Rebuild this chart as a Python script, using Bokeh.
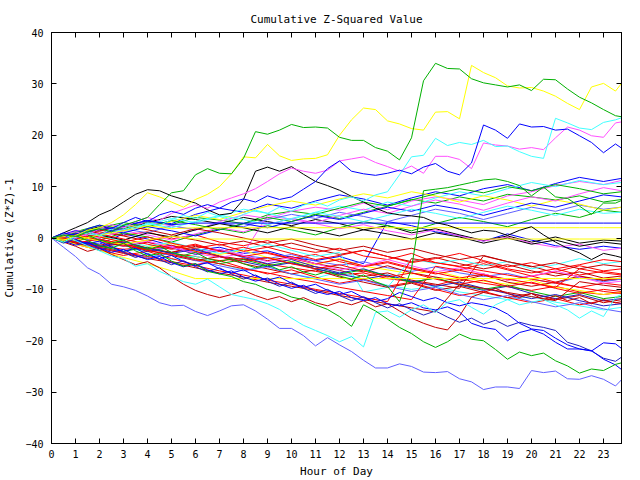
from bokeh.plotting import figure
from bokeh.models import LinearAxis, FixedTicker, Range1d
from bokeh.embed import file_html
from bokeh.resources import INLINE

# ---------------- colours ----------------
RED = "#ff0000"
DRED = "#c00000"
GREEN = "#00b000"
BLUE = "#0000ff"
NAVY = "#2020c0"
SLATE = "#6060ff"
MAG = "#ff50ff"
CYAN = "#40ffff"
YEL = "#ffff00"
BLK = "#000000"

# ---------------- time grids (hour of day) ----------------
hours_hourly = [0, 1, 2, 3, 4, 5, 6, 7, 8, 9, 10, 11,
                12, 13, 14, 15, 16, 17, 18, 19, 20, 21, 22, 23, 23.75]
hours_half = [i / 2 for i in range(48)] + [23.75]

x_ticks = list(range(24))
y_ticks = [-40, -30, -20, -10, 0, 10, 20, 30, 40]

# ---------------- half-hour series (prominent lines) ----------------
green_top = [0, 0.6, 0.3, 1.2, 1.8, 1.2, 2.5, 3.2, 4.0, 6.5, 8.8, 9.2,
             12.3, 13.5, 12.6, 12.5, 15.5, 20.7, 20.2, 21.0, 22.1, 21.5, 21.6, 21.4,
             19.6, 19.0, 19.0, 17.6, 16.9, 15.2, 19.5, 30.6, 34.0, 33.0, 32.9, 31.0,
             30.2, 29.8, 29.4, 29.8, 28.7, 30.9, 30.8, 29.0, 27.4, 26.3, 25.0, 23.8,
             23.6]
yellow_top = [0, -0.5, 0.5, 1.5, 2.0, 3.0, 4.5, 6.5, 8.8, 8.0, 7.0, 6.0,
              7.5, 8.5, 10.0, 12.5, 15.8, 15.6, 18.2, 16.0, 15.1, 15.4, 15.5, 16.2,
              20.0, 23.0, 25.3, 25.0, 22.8, 22.2, 21.3, 21.0, 24.5, 24.6, 23.2, 33.6,
              32.2, 31.2, 29.6, 29.2, 29.3, 28.6, 27.6, 26.2, 25.0, 29.4, 30.1, 28.6,
              30.1]
slate_low = [0, -1.8, -3.6, -5.8, -7.0, -9.0, -9.5, -10.2, -11.3, -12.6, -13.2, -13.1,
             -14.3, -15.1, -14.2, -13.2, -13.0, -14.2, -15.8, -17.6, -17.6, -19.0, -21.0, -19.4,
             -20.8, -22.1, -23.8, -25.3, -25.3, -24.5, -25.0, -26.1, -26.2, -26.0, -27.4, -28.0,
             -29.5, -29.0, -29.0, -29.3, -25.8, -26.2, -25.9, -27.4, -27.5, -26.8, -27.5, -28.8,
             -27.6]
green_low = [0, -0.8, 0.5, -0.5, -1.5, -2.0, -1.0, -2.5, -3.5, -3.0, -4.5, -5.5,
             -5.0, -6.5, -7.0, -7.5, -8.5, -9.0, -10.0, -10.5, -11.5, -12.0, -13.0, -13.9,
             -15.3, -17.2, -13.0, -14.2, -15.8, -17.4, -18.6, -20.2, -21.3, -20.2, -18.7, -19.7,
             -20.0, -21.7, -23.6, -22.2, -22.9, -22.4, -23.9, -24.9, -26.3, -25.5, -25.8, -24.6,
             -24.3]
cyan_low = [0, 0.8, -0.5, -1.5, -2.5, -3.5, -4.0, -5.5, -5.0, -6.5, -7.5, -8.5,
            -9.0, -8.0, -9.5, -11.0, -11.5, -12.0, -12.8, -13.9, -15.6, -17.0, -18.0, -19.0,
            -20.2, -19.2, -21.2, -14.5, -14.2, -15.4, -14.0, -13.0, -14.5, -12.5, -12.0, -13.5,
            -14.8, -13.0, -12.0, -13.0, -12.5, -12.0, -13.0, -14.0, -15.6, -14.2, -15.3, -11.5,
            -11.0]
blue_up = [0, 1.0, 0.5, 1.8, 2.5, 1.8, 3.0, 4.0, 3.2, 4.5, 5.2, 4.6,
           5.8, 6.5, 5.8, 7.0, 7.6, 7.0, 8.2, 7.5, 8.0, 9.5, 11.0, 13.5,
           15.0, 13.0, 12.5, 12.2, 12.6, 13.2, 12.5, 13.8, 14.5, 13.0, 12.3, 14.6,
           22.0, 21.0, 19.4, 22.2, 21.6, 21.7, 21.0, 21.2, 19.9, 18.6, 16.6, 18.3,
           17.5]
cyan_up = [0, -0.8, 0.4, 1.2, 0.5, 1.8, 2.6, 1.8, 3.0, 2.4, 3.6, 4.4,
           3.8, 5.0, 4.2, 3.5, 4.6, 5.4, 4.8, 6.0, 5.2, 6.4, 7.0, 6.2,
           7.4, 8.0, 7.2, 8.4, 9.0, 12.3, 15.8, 16.1, 19.4, 18.0, 18.6, 18.2,
           19.0, 17.8, 17.9, 16.8, 15.9, 15.5, 23.3, 22.4, 21.4, 21.1, 22.5, 23.0,
           23.4]
magenta_up = [0, 0.6, 1.2, 0.6, 1.8, 2.6, 2.0, 3.2, 4.0, 3.4, 4.8, 5.6,
              6.4, 5.8, 7.0, 7.8, 8.6, 9.6, 11.0, 12.5, 13.6, 13.0, 12.6, 13.2,
              15.0, 15.4, 15.8, 14.7, 13.9, 13.0, 14.0, 12.6, 15.9, 15.9, 15.3, 13.5,
              18.5, 18.1, 17.9, 17.3, 17.6, 17.2, 19.5, 21.6, 21.0, 19.9, 19.6, 22.4,
              22.6]
blue_low_a = [0, -0.6, -1.4, -0.8, -2.0, -2.8, -2.2, -3.4, -4.2, -3.6, -4.8, -5.6,
              -5.0, -6.2, -7.0, -6.4, -7.6, -8.4, -7.8, -9.0, -9.8, -9.2, -10.4, -11.0,
              -10.4, -11.6, -12.2, -11.6, -12.8, -13.2, -12.6, -13.6, -14.0, -13.4, -14.4, -16.6,
              -17.4, -17.8, -20.0, -18.4, -17.8, -18.7, -20.3, -21.6, -21.6, -22.0, -20.4, -20.6,
              -21.5]
blue_low_b = [0, 0.6, -0.4, -1.2, -0.6, -1.8, -2.6, -2.0, -3.2, -4.0, -3.4, -4.6,
              -5.4, -4.8, -6.0, -6.8, -6.2, -7.4, -8.2, -7.6, -8.8, -9.6, -9.0, -10.2,
              -11.0, -10.4, -11.6, -12.4, -11.8, -10.6, -11.4, -12.2, -11.6, -12.6, -13.2, -12.6,
              -13.0, -13.6, -14.8, -16.6, -17.7, -18.0, -19.5, -20.8, -21.6, -21.9, -23.6, -24.7,
              -25.6]
navy_low = [0, -1.0, -0.2, -1.4, -2.4, -1.6, -2.8, -3.8, -3.0, -4.2, -5.2, -4.4,
            -5.6, -6.6, -5.8, -7.0, -8.0, -7.2, -8.4, -9.4, -8.6, -9.8, -10.8, -10.0,
            -11.2, -12.2, -11.4, -12.6, -13.6, -12.8, -14.0, -15.0, -14.2, -15.4, -16.4, -15.6,
            -16.8, -16.0, -17.2, -16.4, -17.0, -17.4, -18.0, -20.3, -21.0, -22.0, -23.4, -24.0,
            -23.2]
darkred_low = [0, -0.8, -1.6, -2.6, -2.0, -3.2, -4.2, -5.2, -4.6, -5.8, -7.5, -9.0,
               -10.2, -11.0, -11.6, -11.0, -10.2, -11.2, -12.0, -11.4, -12.4, -11.6, -12.6, -13.2,
               -12.4, -13.0, -12.2, -13.4, -12.8, -14.2, -15.6, -16.6, -17.4, -17.9, -15.2, -11.5,
               -10.6, -9.8, -10.8, -11.6, -10.8, -12.0, -11.2, -12.2, -11.6, -12.8, -12.0, -12.6,
               -12.4]
black_up = [0, 1.0, 2.0, 3.0, 4.5, 5.5, 7.0, 8.5, 9.4, 9.2, 8.2, 7.5,
            6.8, 5.5, 4.5, 4.8, 7.5, 13.0, 13.8, 13.0, 13.9, 12.4, 11.0, 10.2,
            9.3, 8.1, 7.0, 5.8, 4.9, 4.5, 4.3, 4.0, 3.0, 2.5, 1.7, 1.0,
            1.5, 1.3, 0.5, 1.5, 2.2, 0.6, -0.8, -2.0, -2.9, -4.2, -3.0, -3.5,
            -3.8]
green_mid = [0, 0.5, 1.2, 0.6, -0.4, -1.0, -0.4, -1.5, -2.2, -1.6, -2.8, -3.4,
             -2.8, -4.0, -4.6, -4.0, -5.0, -5.8, -5.2, -6.2, -5.6, -6.6, -7.2, -6.5,
             -7.4, -8.0, -7.2, -8.5, -9.4, -12.4, -6.0, 9.2, 9.5, 9.8, 10.3, 10.8,
             11.3, 11.5, 11.0, 10.2, 8.2, 9.9, 8.0, 7.7, 6.2, 4.6, 6.8, 6.8,
             7.3]

# ---------------- hourly series (the dense bundle) ----------------
t01 = [0, -0.8, -1.5, -2.2, -1.8, -3.0, -3.6, -4.4, -4.0, -5.1, -5.8, -6.5,
       -7.2, -6.8, -7.9, -8.5, -9.2, -8.0, -8.8, -9.5, -10.2, -9.4, -10.5, -11.0, -10.6]
t02 = [0, 0.5, -0.5, -1.0, -2.2, -2.8, -2.0, -3.5, -4.2, -3.8, -5.0, -5.6,
       -6.3, -7.5, -6.8, -8.2, -9.0, -9.8, -3.5, -4.6, -5.5, -6.8, -7.5, -8.3, -8.0]
t03 = [0, 1.2, 2.5, 1.8, 3.2, 2.6, 4.0, 3.5, 2.8, 4.5, 5.2, 4.6,
       3.8, 5.0, 6.2, 7.5, 6.8, 8.0, 7.2, 8.5, 8.0, 7.4, 8.2, 7.0, 7.5]
t04 = [0, -0.5, -1.2, 0.8, -0.2, -1.5, -2.4, -1.8, -3.0, -2.5, -3.8, -4.4,
       -3.6, -5.0, 3.2, 2.4, 1.2, 0.5, -0.6, 0.8, -0.4, -1.5, -2.2, -1.6, -2.0]
t05 = [0, 1.5, 0.8, 2.2, 3.0, 2.4, 1.5, 3.2, 4.5, 3.8, 5.2, 6.0,
       5.4, 6.8, 5.5, 7.2, 8.0, 7.4, 6.5, 8.2, 9.0, 10.2, 11.0, 10.4, 11.2]
t06 = [0, -1.0, -2.0, -1.4, -3.0, -4.2, -3.5, -5.0, -6.2, -5.5, -7.0, -7.8,
       -6.6, -8.0, -9.2, -10.0, -9.4, -10.5, -11.2, -12.0, -11.4, -12.5, -13.2, -14.0, -13.5]
t07 = [0, 0.2, -0.8, -1.6, -0.8, -2.0, -2.8, -2.2, -3.4, -4.0, -3.2, -4.5,
       -5.3, -4.6, -5.8, -6.5, -5.6, -6.8, -7.5, -6.9, -8.0, -8.8, -7.6, -8.5, -8.0]
t08 = [0, 0.8, 1.6, 0.5, 1.2, -0.2, 0.6, -0.8, -1.5, -0.5, -2.0, -2.8,
       -2.0, -3.5, -4.2, -3.0, -4.8, -5.5, -4.6, -6.0, -6.8, -6.0, -7.2, -6.5, -7.0]
t09 = [0, -0.6, 0.4, -1.0, -1.8, -1.0, -2.6, -3.2, -2.4, -3.8, -4.6, -5.2,
       -4.0, -5.5, -6.2, -7.0, -6.4, -7.6, -8.4, -9.0, -8.2, -9.6, -10.2, -11.0, -10.5]
t10 = [0, 1.0, 2.2, 1.5, 3.0, 4.2, 3.6, 2.8, 4.0, 3.2, 2.4, 3.6,
       2.8, 1.6, 2.4, 1.0, 1.8, 0.6, -0.5, 0.4, -0.8, 0.2, -1.0, -0.4, -0.6]
t11 = [0, -0.4, -1.4, -0.6, -2.0, -2.8, -1.6, -2.4, -3.6, -4.4, -3.6, -5.0,
       -5.8, -6.6, -5.4, -6.8, -7.6, -8.4, -7.2, -8.6, -9.4, -8.6, -7.4, -8.2, -7.8]
t12 = [0, 0.6, -0.4, 1.0, 0.2, -0.8, 0.6, 1.8, 1.0, 2.4, 1.6, 0.6,
       2.0, 3.2, 2.4, 1.4, 2.8, 4.0, 3.2, 2.2, 3.6, 4.8, 4.0, 5.4, 5.0]
t13 = [0, 1.4, 0.6, 2.2, 3.4, 2.8, 4.6, 5.8, 5.0, 6.6, 5.8, 7.2,
       8.4, 7.6, 6.4, 7.8, 9.0, 8.2, 9.6, 10.4, 9.2, 10.6, 11.8, 11.0, 11.6]
t14 = [0, -0.8, -1.6, -0.8, -2.4, -1.6, -3.0, -3.8, -3.0, 4.4, 3.6, 2.8,
       1.8, 2.6, 1.4, 0.6, 1.6, 0.4, -0.6, 0.2, -1.0, -1.8, -1.2, -2.4, -2.0]
t15 = [0, 0.8, 2.0, 1.2, 2.6, 3.8, 3.0, 4.2, 5.6, 4.8, 3.6, 5.0,
       6.2, 5.4, 7.0, 6.2, 7.8, 9.0, 8.2, 9.6, 10.8, 10.0, 11.2, 10.4, 10.8]
t16 = [0, -1.2, -2.4, -3.4, -2.6, -4.0, -5.2, -4.4, -5.8, -7.0, -6.2, -7.6,
       -8.8, -8.0, -9.4, -8.6, -10.0, -11.2, -10.4, -11.6, -12.6, -11.8, -13.0, -12.2, -12.8]
t17 = [0, 0.4, 1.2, 0.4, -0.6, 0.4, -0.4, -1.4, -0.6, -1.8, -1.0, -2.2,
       -3.2, -2.4, -3.6, -4.6, -3.8, -5.0, -6.0, -5.2, -6.4, -7.4, -6.6, -7.8, -7.4]
t18 = [0, -0.4, 0.8, 1.8, 1.0, 2.4, 1.6, 3.0, 2.2, 3.6, 4.6, 3.8,
       5.0, 4.2, 3.2, 4.4, 5.6, 4.8, 3.6, 4.8, 6.0, 5.2, 6.4, 5.6, 6.0]
t19 = [0, -1.0, -0.2, -1.4, -2.6, -1.8, -3.2, -2.4, -3.8, -5.0, -4.2, -5.6,
       -6.8, -6.0, -7.4, -8.6, -7.8, -9.2, -10.2, -9.4, -10.8, -11.8, -11.0, -12.2, -11.8]
t20 = [0, 0.6, 1.6, 2.6, 1.8, 3.2, 4.4, 3.6, 5.0, 6.2, 7.2, 6.4,
       7.6, 8.6, 7.8, 9.0, 8.2, 7.0, 8.2, 7.4, 6.2, 7.4, 6.6, 5.4, 6.0]
t21 = [0, 0.4, -0.6, -1.6, -0.8, -2.0, -1.2, -2.6, -3.6, -2.8, -4.0, -3.2,
       -4.6, -5.6, -4.8, -6.0, -7.0, -6.2, -5.0, -6.2, -7.4, -6.6, -5.4, -6.4, -6.0]
t22 = [0, -0.6, -1.6, -2.6, -1.8, -3.0, -4.0, -5.0, -4.2, -5.4, -4.6, -6.0,
       -7.0, -6.2, -7.4, -8.6, -7.8, -9.0, -10.0, -9.2, -10.4, -11.4, -10.6, -11.8, -11.4]
t23 = [0, 0.8, 0.0, 1.4, 0.6, -0.4, 0.8, 2.0, 1.2, 2.6, 3.8, 3.0,
       4.4, 5.6, 4.8, 6.2, 7.4, 6.6, 5.4, 6.8, 8.0, 7.2, 8.6, 9.8, 9.2]
t24 = [0, -0.4, 0.6, -0.6, -1.6, -0.8, -2.0, -3.0, -2.2, -1.2, -2.4, -3.6,
       -2.8, -10.5, -9.6, -4.0, -5.0, -4.2, -5.4, -4.6, -6.0, -5.2, -4.0, -5.0, -4.6]
t25 = [0, -0.8, -1.8, -1.0, -2.4, -3.4, -4.4, -3.6, -5.0, -6.0, -7.0, -6.2,
       -7.6, -8.6, -9.6, -8.8, -10.2, -9.4, -10.6, -11.6, -10.8, -12.0, -11.2, -12.6, -12.0]
t26 = [0, -0.6, 0.6, -0.4, 1.0, 0.2, 1.6, 2.8, 2.0, 1.0, 2.2, 1.4,
       0.4, 1.6, 0.8, -0.2, 1.0, 0.2, -1.0, 0.0, -1.2, -0.4, -1.6, -0.8, -1.2]
t27 = [0, 1.0, 0.2, -0.8, 0.2, -1.0, -2.0, -1.2, -2.6, -1.8, -3.0, -4.2,
       -3.4, -2.4, -3.6, -4.8, -4.0, -3.0, -4.4, -5.6, -4.8, -6.0, -5.2, -4.2, -4.6]
t28 = [0, 0.8, 1.8, 1.0, 2.2, 1.4, 0.4, 1.6, 2.8, 2.0, 3.2, 4.4,
       3.6, 4.8, 6.0, 5.2, 6.4, 5.6, 4.4, 5.6, 6.8, 6.0, 7.2, 8.4, 8.0]
t29 = [0, -0.8, -1.8, -2.8, -3.8, -3.0, -4.4, -5.4, -6.4, -5.6, -7.0, -8.0,
       -9.0, -8.2, -9.4, -10.4, -9.6, -11.0, -12.0, -11.2, -12.4, -13.4, -12.6, -13.8, -14.4]
t30 = [0, -0.2, 0.8, -0.2, -1.2, -2.2, -1.4, -2.6, -1.8, -3.0, -4.0, -5.0,
       -4.2, -5.4, -4.6, -5.8, -6.8, -7.8, -7.0, -8.2, -7.4, -8.6, -9.6, -8.8, -9.2]
t31 = [0, 1.0, 2.0, 3.0, 2.2, 3.4, 2.6, 1.6, 2.8, 4.0, 3.2, 4.6,
       5.8, 7.0, 6.2, 7.4, 8.6, 9.6, 8.8, 10.0, 9.2, 10.4, 9.6, 8.6, 9.0]
t32 = [0, -1.0, -0.2, -1.4, -0.6, -1.8, -3.0, -2.2, -3.4, -4.6, -3.8, -5.0,
       -6.2, -5.4, -4.2, -5.4, -6.6, -5.8, -7.0, -8.2, -7.4, -6.4, -7.6, -8.8, -8.4]
t33 = [0, 0.6, 1.4, 2.4, 1.6, 0.6, 1.8, 1.0, 0.0, -1.0, -0.2, -1.4,
       -2.4, -1.6, -2.8, -2.0, -3.2, -4.2, -3.4, -4.6, -5.6, -4.8, -6.0, -5.2, -5.6]
t34 = [0, 1.2, 0.4, 1.6, 2.8, 2.0, 3.2, 4.4, 3.6, 2.6, 3.8, 5.0,
       4.2, 3.2, 4.4, 5.6, 4.8, 3.8, 5.0, 6.2, 5.4, 4.4, 5.6, 4.8, 5.0]
t35 = [0, -0.6, -1.6, -0.8, -2.0, -3.0, -2.2, -3.6, -4.6, -5.6, -4.8, -6.0,
       -7.0, -8.0, -7.2, -8.4, -9.4, -8.6, -9.8, -10.8, -11.8, -11.0, -12.2, -13.2, -12.8]
t36 = [0, -1.0, -0.2, -1.2, -2.2, -1.4, -2.6, -3.6, -4.6, -3.8, -5.0, -6.0,
       -5.2, -6.4, -7.6, -6.8, -8.0, -9.0, -8.2, -9.4, -8.6, -9.8, -10.8, -10.0, -10.4]
t37 = [0, -0.8, -1.8, -2.8, -3.6, -4.6, -5.4, -6.4, -7.2, -8.2, -9.0, -10.0,
       -10.8, -11.6, -12.4, -4.0, -4.8, -5.6, -6.4, -7.2, -8.0, -8.8, -9.6, -10.4, -10.8]
t38 = [0, 0.6, -0.4, -1.4, -2.4, -3.2, -4.2, -5.0, -6.0, -6.8, -7.8, -8.6,
       -9.6, -10.4, -11.2, -12.0, -5.5, -6.3, -7.2, -8.0, -8.8, -9.6, -6.0, -6.8, -7.2]
t39 = [0, -1.0, -2.0, -3.0, -4.0, -4.8, -5.8, -6.8, -7.6, -8.6, -9.4, -10.2,
       -11.2, -12.0, -12.8, -13.6, -14.4, -9.0, -9.8, -10.6, -11.4, -12.2, -8.5, -9.2, -9.6]
flat_blue = [0, 0.8, 1.6, 2.4, 3.4, 2.6, 2.9, 2.9, 2.9, 2.9, 2.9, 2.9,
             2.9, 2.9, 2.9, 2.9, 2.9, 2.9, 2.9, 2.9, 2.9, 2.9, 2.9, 2.9, 2.9]
flat_yel_a = [0, -0.5, 0.6, 1.4, 2.4, 1.8, 2.0, 2.0, 2.0, 2.0, 2.0, 2.0,
              2.0, 2.0, 2.0, 2.0, 2.0, 2.0, 2.0, 2.0, 2.0, 2.0, 2.0, 2.0, 2.0]
flat_yel_b = [0, 0.5, -0.6, -1.2, -0.4, 0.3, -0.2, -0.2, -0.2, -0.2, -0.2, -0.2,
              -0.2, -0.2, -0.2, -0.2, -0.2, -0.2, -0.2, -0.2, -0.2, -0.2, -0.2, -0.2, -0.2]
flat_yel_c = [0, -1.2, -2.4, -3.8, -5.0, -6.4, -7.9, -7.9, -7.9, -7.9, -7.9, -7.9,
              -7.9, -7.9, -7.9, -7.9, -7.9, -7.9, -7.9, -7.9, -7.9, -7.9, -7.9, -7.9, -7.9]

hourly_series = [
    (t01, RED), (t02, DRED), (t03, GREEN), (t04, BLUE), (t05, MAG), (t06, CYAN),
    (t07, SLATE), (t08, RED), (t09, YEL), (t10, BLK), (t11, DRED), (t12, GREEN),
    (t13, BLUE), (t14, MAG), (t15, CYAN), (t16, RED), (t17, DRED), (t18, SLATE),
    (t19, NAVY), (t20, YEL), (t21, RED), (t22, GREEN), (t23, MAG), (t24, CYAN),
    (t25, DRED), (t26, BLK), (t27, RED), (t28, BLUE), (t29, SLATE), (t30, RED),
    (t31, GREEN), (t32, MAG), (t33, DRED), (t34, CYAN), (t35, NAVY), (t36, RED),
    (t37, RED), (t38, RED), (t39, DRED),
    (flat_blue, BLUE), (flat_yel_a, YEL), (flat_yel_b, YEL), (flat_yel_c, YEL),
]
half_series = [
    (darkred_low, DRED), (navy_low, NAVY), (blue_low_b, BLUE), (blue_low_a, BLUE),
    (cyan_low, CYAN), (green_low, GREEN), (slate_low, SLATE), (green_mid, GREEN),
    (black_up, BLK), (magenta_up, MAG), (cyan_up, CYAN), (blue_up, BLUE),
    (yellow_top, YEL), (green_top, GREEN),
]

FONT = "DejaVu Sans Mono"

p = figure(width=640, height=480, output_backend="svg", toolbar_location=None,
           x_range=Range1d(0, 23.75), y_range=Range1d(-40, 40),
           min_border_left=51, min_border_right=19, min_border_top=32,
           min_border_bottom=35, background_fill_color="white",
           border_fill_color="white")
p.outline_line_color = "black"
p.outline_line_width = 1
p.grid.visible = False

p.title.text = "Cumulative Z-Squared Value"
p.title.align = "center"
p.title.text_font = FONT
p.title.text_font_size = "11px"
p.title.text_font_style = "normal"
p.title.text_color = "black"
p.title.standoff = 14

for vals, col in hourly_series:
    p.line(hours_hourly, vals, line_color=col, line_width=1)
for vals, col in half_series:
    p.line(hours_half, vals, line_color=col, line_width=1)


def style_axis(ax, labels=True):
    ax.major_tick_in = 5
    ax.major_tick_out = 0
    ax.minor_tick_in = 0
    ax.minor_tick_out = 0
    ax.axis_line_color = "black"
    ax.major_tick_line_color = "black"
    ax.major_label_text_font = FONT
    ax.major_label_text_font_size = "10px"
    ax.major_label_text_color = "black"
    ax.axis_label_text_font = FONT
    ax.axis_label_text_font_size = "11px"
    ax.axis_label_text_font_style = "normal"
    ax.axis_label_text_color = "black"
    if not labels:
        ax.major_label_text_font_size = "0px"
        ax.major_label_standoff = 0


xa = p.xaxis[0]
xa.ticker = FixedTicker(ticks=x_ticks)
xa.axis_label = "Hour of Day"
style_axis(xa)
xa.major_label_standoff = 6
xa.axis_label_standoff = 4

ya = p.yaxis[0]
ya.ticker = FixedTicker(ticks=y_ticks)
ya.axis_label = "Cumulative (Z*Z)-1"
style_axis(ya)
ya.major_label_standoff = 8
ya.axis_label_standoff = 6

top = LinearAxis(ticker=FixedTicker(ticks=x_ticks))
style_axis(top, labels=False)
p.add_layout(top, "above")
right = LinearAxis(ticker=FixedTicker(ticks=y_ticks))
style_axis(right, labels=False)
p.add_layout(right, "right")

open("out.html", "w").write(file_html(p, INLINE))
